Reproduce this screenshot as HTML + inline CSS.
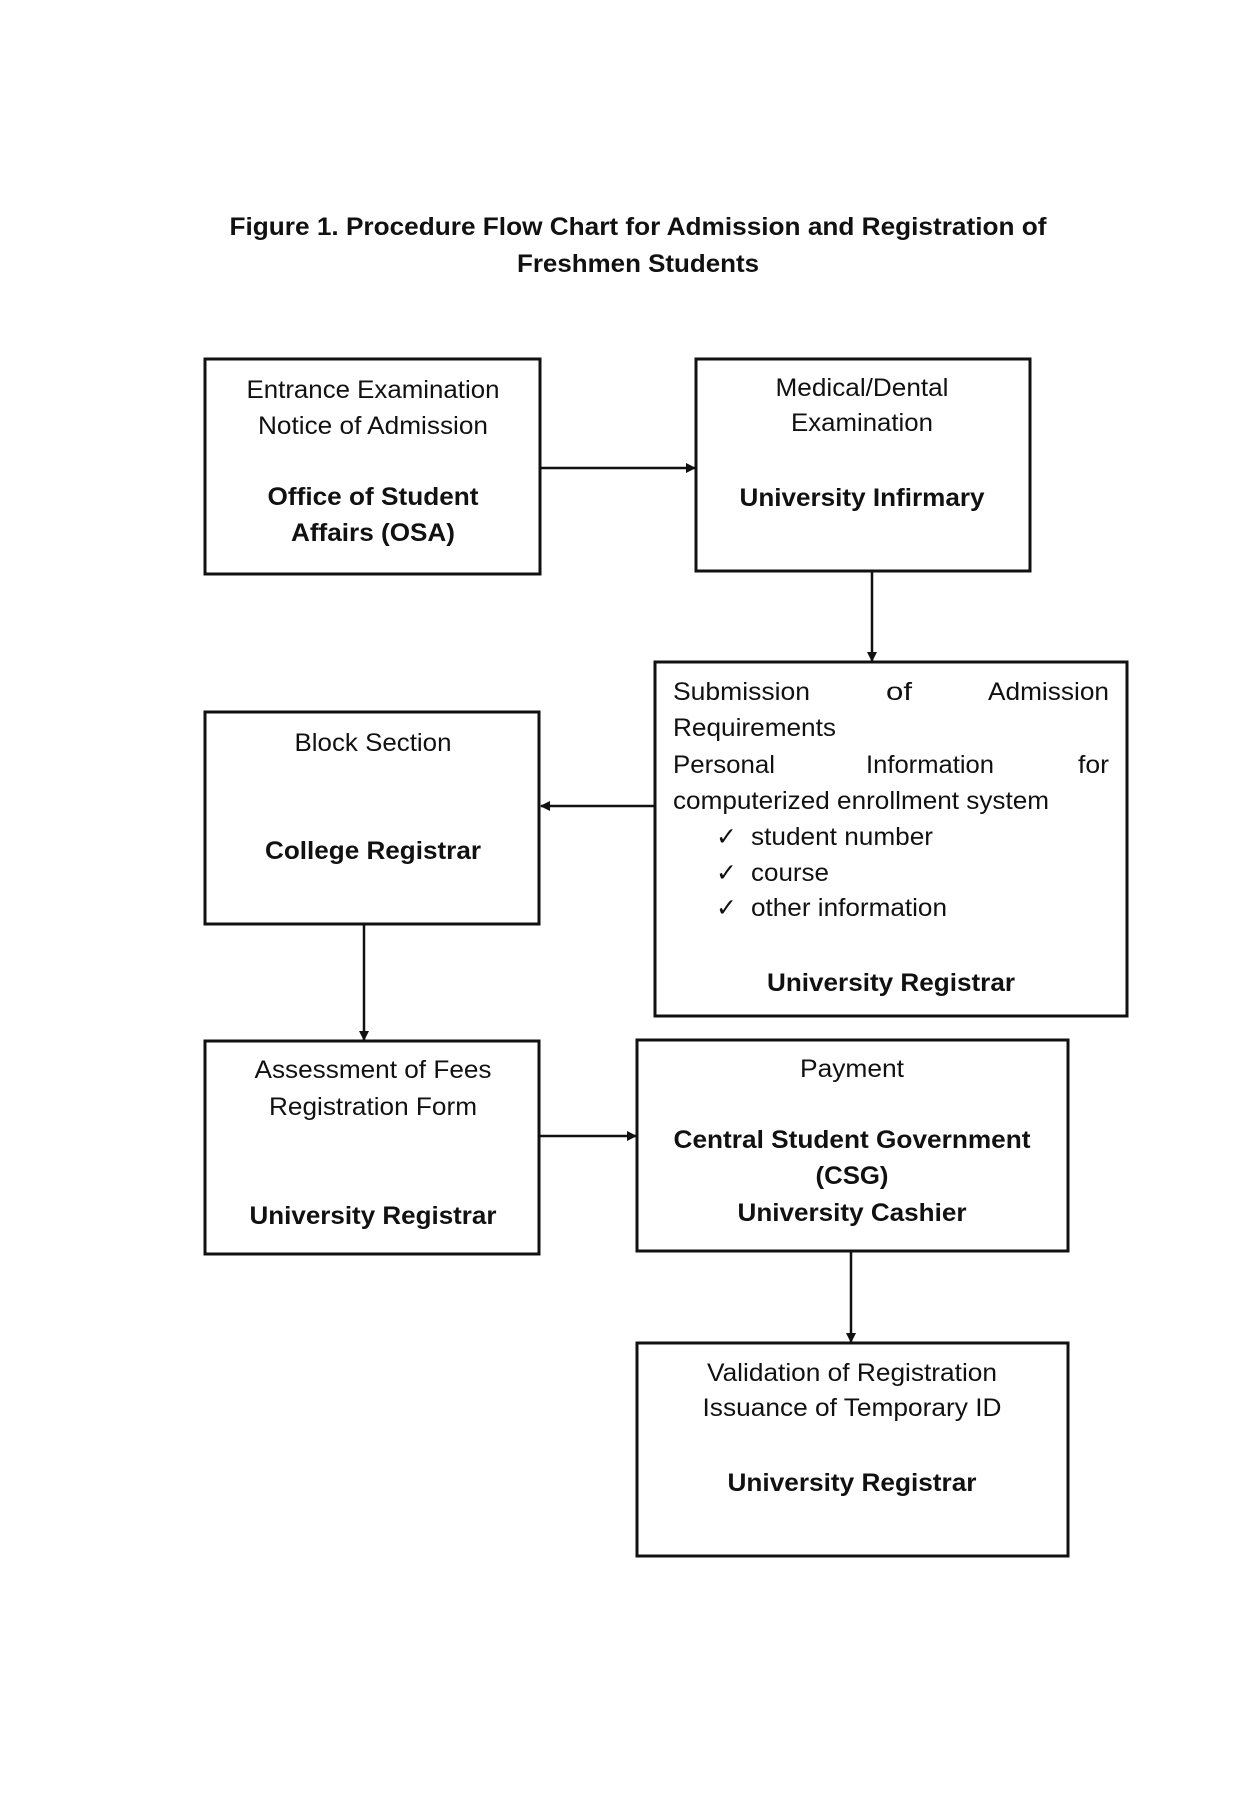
<!DOCTYPE html>
<html><head><meta charset="utf-8"><style>
html,body{margin:0;padding:0;background:#fff;}
svg{display:block;}
text{font-family:"Liberation Sans",Arial,sans-serif;font-size:25px;fill:#111;}
.b{font-weight:bold;}
</style></head><body>
<svg width="1246" height="1800" viewBox="0 0 1246 1800" xmlns="http://www.w3.org/2000/svg">
<defs><marker id="ah" markerWidth="10" markerHeight="10" refX="9" refY="5" orient="auto" markerUnits="userSpaceOnUse"><path d="M0,0 L10,5 L0,10 z" fill="#111"/></marker></defs>
<text class="b" x="638" y="235" text-anchor="middle" textLength="817" lengthAdjust="spacingAndGlyphs">Figure 1. Procedure Flow Chart for Admission and Registration of</text>
<text class="b" x="638" y="272" text-anchor="middle" textLength="242" lengthAdjust="spacingAndGlyphs">Freshmen Students</text>
<g fill="none" stroke="#111" stroke-width="3">
<rect x="205" y="359" width="335" height="215"/>
<rect x="696" y="359" width="334" height="212"/>
<rect x="655" y="662" width="472" height="354"/>
<rect x="205" y="712" width="334" height="212"/>
<rect x="205" y="1041" width="334" height="213"/>
<rect x="637" y="1040" width="431" height="211"/>
<rect x="637" y="1343" width="431" height="213"/>
<g stroke-width="2.5" marker-end="url(#ah)">
<line x1="540" y1="468" x2="695" y2="468"/>
<line x1="872" y1="571" x2="872" y2="661"/>
<line x1="655" y1="806" x2="541" y2="806"/>
<line x1="364" y1="924" x2="364" y2="1040"/>
<line x1="539" y1="1136" x2="636" y2="1136"/>
<line x1="851" y1="1251" x2="851" y2="1342"/>
</g></g>
<g text-anchor="middle">
<text x="373" y="398" textLength="253" lengthAdjust="spacingAndGlyphs">Entrance Examination</text>
<text x="373" y="434" textLength="230" lengthAdjust="spacingAndGlyphs">Notice of Admission</text>
<text class="b" x="373" y="505" textLength="211" lengthAdjust="spacingAndGlyphs">Office of Student</text>
<text class="b" x="373" y="541" textLength="164" lengthAdjust="spacingAndGlyphs">Affairs (OSA)</text>
<text x="862" y="396" textLength="173" lengthAdjust="spacingAndGlyphs">Medical/Dental</text>
<text x="862" y="431" textLength="142" lengthAdjust="spacingAndGlyphs">Examination</text>
<text class="b" x="862" y="506" textLength="245" lengthAdjust="spacingAndGlyphs">University Infirmary</text>
<text x="373" y="751" textLength="157" lengthAdjust="spacingAndGlyphs">Block Section</text>
<text class="b" x="373" y="859" textLength="216" lengthAdjust="spacingAndGlyphs">College Registrar</text>
<text x="373" y="1078" textLength="237" lengthAdjust="spacingAndGlyphs">Assessment of Fees</text>
<text x="373" y="1115" textLength="208" lengthAdjust="spacingAndGlyphs">Registration Form</text>
<text class="b" x="373" y="1224" textLength="247" lengthAdjust="spacingAndGlyphs">University Registrar</text>
<text x="852" y="1077" textLength="104" lengthAdjust="spacingAndGlyphs">Payment</text>
<text class="b" x="852" y="1148" textLength="357" lengthAdjust="spacingAndGlyphs">Central Student Government</text>
<text class="b" x="852" y="1184" textLength="73" lengthAdjust="spacingAndGlyphs">(CSG)</text>
<text class="b" x="852" y="1221" textLength="229" lengthAdjust="spacingAndGlyphs">University Cashier</text>
<text x="852" y="1381" textLength="290" lengthAdjust="spacingAndGlyphs">Validation of Registration</text>
<text x="852" y="1416" textLength="299" lengthAdjust="spacingAndGlyphs">Issuance of Temporary ID</text>
<text class="b" x="852" y="1491" textLength="249" lengthAdjust="spacingAndGlyphs">University Registrar</text>
<text class="b" x="891" y="991" textLength="248" lengthAdjust="spacingAndGlyphs">University Registrar</text>
</g>
<text x="673" y="700" textLength="137" lengthAdjust="spacingAndGlyphs">Submission</text>
<text x="886" y="700" textLength="26" lengthAdjust="spacingAndGlyphs">of</text>
<text x="1109" y="700" text-anchor="end" textLength="121" lengthAdjust="spacingAndGlyphs">Admission</text>
<text x="673" y="736" textLength="163" lengthAdjust="spacingAndGlyphs">Requirements</text>
<text x="673" y="773" textLength="102" lengthAdjust="spacingAndGlyphs">Personal</text>
<text x="866" y="773" textLength="128" lengthAdjust="spacingAndGlyphs">Information</text>
<text x="1109" y="773" text-anchor="end" textLength="31" lengthAdjust="spacingAndGlyphs">for</text>
<text x="673" y="809" textLength="376" lengthAdjust="spacingAndGlyphs">computerized enrollment system</text>
<text x="716" y="845">✓</text><text x="751" y="845" textLength="182" lengthAdjust="spacingAndGlyphs">student number</text>
<text x="716" y="881">✓</text><text x="751" y="881" textLength="78" lengthAdjust="spacingAndGlyphs">course</text>
<text x="716" y="916">✓</text><text x="751" y="916" textLength="196" lengthAdjust="spacingAndGlyphs">other information</text>
</svg>
</body></html>
